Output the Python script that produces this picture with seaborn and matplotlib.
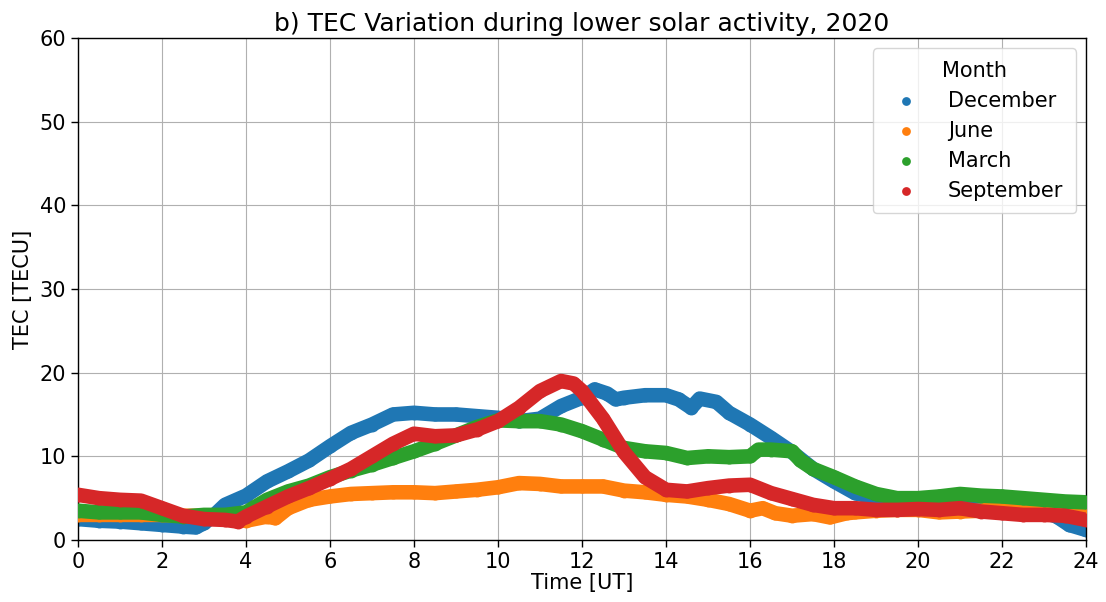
import numpy as np
import pandas as pd
import matplotlib
matplotlib.use("Agg")
import matplotlib.pyplot as plt
import seaborn as sns

months = ["December", "June", "March", "September"]

dec_t = [0, 0.5, 1, 1.5, 2, 2.5, 2.8, 3, 3.25, 3.5, 4, 4.5, 5, 5.5, 6, 6.5, 7, 7.5, 8, 8.5, 9, 9.5,
         10, 10.5, 11, 11.5, 12, 12.3, 12.6, 12.8, 13, 13.5, 14, 14.3, 14.6, 14.8, 15.2, 15.5, 16,
         16.5, 17, 17.5, 18, 18.5, 19, 19.5, 20, 20.5, 21, 21.5, 22, 22.5, 23, 23.3, 23.6, 24]
dec_v = [2.5, 2.3, 2.2, 2.0, 1.8, 1.6, 1.5, 2.0, 3.0, 4.2, 5.3, 7.0, 8.2, 9.5, 11.2, 12.8, 13.8, 15.0,
         15.2, 15.0, 15.0, 14.8, 14.6, 14.2, 14.5, 16.0, 17.0, 18.0, 17.5, 16.8, 17.0, 17.3, 17.3, 16.8,
         15.8, 16.9, 16.5, 15.2, 13.8, 12.2, 10.5, 8.5, 7.0, 5.6, 5.0, 4.4, 4.0, 4.2, 4.3, 4.2, 3.9, 3.6,
         3.3, 2.8, 1.8, 1.2]

jun_t = [0, 0.5, 1, 1.5, 2, 2.5, 3, 3.5, 4, 4.5, 4.7, 5, 5.5, 6, 6.5, 7, 7.5, 8, 8.5, 9, 9.5, 10, 10.5,
         11, 11.5, 12, 12.5, 13, 13.5, 14, 14.5, 15, 15.5, 16, 16.3, 16.6, 17, 17.5, 17.9, 18.3, 18.5,
         19, 19.5, 20, 20.5, 21, 21.5, 22, 22.5, 23, 23.5, 24]
jun_v = [3.0, 3.0, 3.0, 3.0, 3.0, 2.9, 2.9, 2.5, 2.3, 2.8, 2.6, 3.8, 4.8, 5.2, 5.5, 5.6, 5.7, 5.7, 5.6,
         5.8, 6.0, 6.3, 6.8, 6.7, 6.4, 6.4, 6.4, 5.9, 5.7, 5.4, 5.2, 4.8, 4.3, 3.5, 3.8, 3.2, 2.9, 3.1,
         2.7, 3.2, 3.3, 3.5, 3.6, 3.6, 3.3, 3.4, 3.5, 3.9, 3.9, 3.8, 3.4, 3.0]

mar_t = [0, 0.5, 1, 1.5, 2, 2.5, 3, 3.5, 4, 4.5, 5, 5.5, 6, 6.5, 7, 7.5, 8, 8.5, 9, 9.5, 10, 10.5, 11,
         11.5, 12, 12.5, 13, 13.5, 14, 14.5, 15, 15.5, 16, 16.2, 16.5, 17, 17.2, 17.5, 18, 18.5, 19,
         19.5, 20, 20.5, 21, 21.5, 22, 22.5, 23, 23.5, 24]
mar_v = [3.5, 3.3, 3.3, 3.3, 3.0, 2.8, 3.0, 3.0, 3.3, 4.8, 5.8, 6.5, 7.5, 8.3, 9.0, 9.8, 10.6, 11.5,
         12.5, 13.5, 14.3, 14.2, 14.2, 13.8, 13.0, 12.0, 11.0, 10.6, 10.4, 9.8, 10.0, 9.9, 10.0, 10.8,
         10.8, 10.6, 9.5, 8.5, 7.5, 6.4, 5.5, 5.0, 5.0, 5.2, 5.5, 5.3, 5.2, 5.0, 4.8, 4.6, 4.5]

sep_t = [0, 0.5, 1, 1.5, 2, 2.5, 3, 3.5, 3.8, 4, 4.5, 5, 5.5, 6, 6.5, 7, 7.5, 8, 8.5, 9, 9.5, 10,
         10.5, 11, 11.5, 11.8, 12, 12.5, 13, 13.5, 14, 14.5, 15, 15.5, 16, 16.5, 17, 17.5, 18, 18.5,
         19, 19.5, 20, 20.5, 21, 21.5, 22, 22.5, 23, 23.5, 24]
sep_v = [5.4, 5.0, 4.8, 4.7, 3.8, 2.9, 2.5, 2.4, 2.2, 2.8, 4.0, 5.2, 6.2, 7.3, 8.5, 10.0, 11.5, 12.7,
         12.4, 12.5, 13.2, 14.2, 15.8, 17.8, 19.0, 18.7, 17.8, 14.5, 10.5, 7.5, 6.0, 5.8, 6.2, 6.5,
         6.6, 5.6, 4.9, 4.2, 3.8, 3.8, 3.6, 3.6, 3.7, 3.6, 3.8, 3.4, 3.2, 3.0, 3.0, 2.9, 2.4]

series = {"December": (dec_t, dec_v), "June": (jun_t, jun_v),
          "March": (mar_t, mar_v), "September": (sep_t, sep_v)}
frames = []
for m in months:
    t, v = series[m]
    frames.append(pd.DataFrame({"Time": t, "TEC": v, "Month": m}))
df = pd.concat(frames, ignore_index=True)

sns.set_style("white")
plt.rcParams["font.family"] = ["DejaVu Sans"]
plt.rcParams["text.color"] = "black"
plt.rcParams["axes.labelcolor"] = "black"
plt.rcParams["xtick.color"] = "black"
plt.rcParams["ytick.color"] = "black"
fig, ax = plt.subplots(figsize=(11.06, 6.02), dpi=100)
fig.subplots_adjust(left=0.0705, right=0.982, top=0.937, bottom=0.103)

palette = dict(zip(months, sns.color_palette("tab10", 4)))
for i, m in enumerate(months):
    sub = df[df["Month"] == m]
    sns.lineplot(data=sub, x="Time", y="TEC", color=palette[m], linewidth=10.5, sort=False,
                 ax=ax, zorder=2 + i, solid_capstyle="round", solid_joinstyle="round")
    sns.scatterplot(data=sub, x="Time", y="TEC", color=palette[m], s=100, linewidth=0,
                    ax=ax, zorder=2 + i, label=m)

ax.set_xlim(0, 24)
ax.set_ylim(0, 60)
ax.set_xticks(range(0, 25, 2))
ax.set_yticks(range(0, 61, 10))
ax.grid(True, color="#b0b0b0", linewidth=0.8)
ax.set_axisbelow(True)
ax.tick_params(labelsize=15, length=5, width=1, direction="out", bottom=True, left=True)
for sp in ax.spines.values():
    sp.set_color("black")
    sp.set_linewidth(1)
ax.set_xlabel("Time [UT]", fontsize=15, labelpad=1)
ax.set_ylabel("TEC [TECU]", fontsize=15, labelpad=5)
ax.set_title("b) TEC Variation during lower solar activity, 2020", fontsize=18, pad=5)

leg = ax.legend(title="Month", loc="upper right", fontsize=15, title_fontsize=15,
                handletextpad=1.0, borderpad=0.6, labelspacing=0.48)
leg.set_zorder(10)
for h in leg.legend_handles:
    try:
        h.set_sizes([40])
    except AttributeError:
        h.set_markersize(7)

fig.savefig("out.png", dpi=100)
